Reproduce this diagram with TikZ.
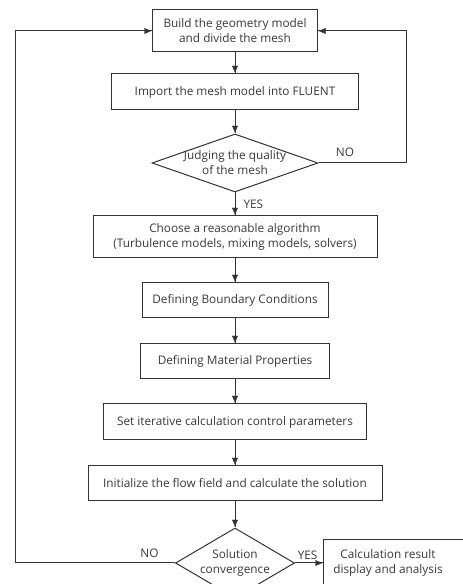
\documentclass[tikz,border=0pt]{standalone}
\usepackage{fontspec}
\setmainfont{Open Sans}
\usetikzlibrary{positioning, calc, shapes.geometric, arrows.meta, decorations.markings}
\definecolor{linegray}{HTML}{333333}
\definecolor{textgray}{HTML}{383838}
\tikzstyle{Arrow} = [
	line width=1pt, draw=linegray,
	decoration={
		markings,
		mark=at position 1 with {
			\arrow[linegray]{Triangle[length=8pt, width=6.5pt]}
			}
		},
	preaction = {decorate}
	]

\begin{document}
\begin{tikzpicture}[
box/.style={rectangle, draw=linegray, line width=1pt,
	text=textgray, align=center, inner sep=0pt,
	font=\fontsize{11.8pt}{15pt}\selectfont
	},
decision/.style={diamond, draw=linegray, line width=1pt,
	inner sep=0pt
	},
txt/.style={text=textgray, align=center, inner sep=0pt,
	font=\fontsize{11.8pt}{15pt}\selectfont
	},
lbl/.style={text=textgray, inner sep=0pt,
	font=\fontsize{11.8pt}{13pt}\selectfont
	}
]
 \useasboundingbox (0,0) rectangle (463pt,584pt);

 \node [box, minimum width=165pt, minimum height=42pt] (r1) at (235pt,553pt)
 	{Build the geometry model\\and divide the mesh};
 \node [box, minimum width=247pt, minimum height=36pt, below=21pt of r1] (r2)
 	{Import the mesh model into FLUENT};
 \node [decision, minimum width=166pt, minimum height=58pt, below=23pt of r2] (d1) {};
 \node [txt] (d1t) at (d1) {Judging the quality\\of the mesh};
 \node [box, minimum width=284pt, minimum height=42pt, below=23pt of d1] (r3)
 	{Choose a reasonable algorithm\\(Turbulence models, mixing models, solvers)};
 \node [box, minimum width=186pt, minimum height=35pt, below=24pt of r3] (r4)
 	{Defining Boundary Conditions};
 \node [box, minimum width=189pt, minimum height=35pt, below=25pt of r4] (r5)
 	{Defining Material Properties};
 \node [box, minimum width=263pt, minimum height=36pt, below=24pt of r5] (r6)
 	{Set iterative calculation control parameters};
 \node [box, minimum width=294pt, minimum height=35pt, below=25pt of r6] (r7)
 	{Initialize the flow field and calculate the solution};
 \node [decision, minimum width=119pt, minimum height=70pt, below=26pt of r7] (d2) {};
 \node [txt] (d2t) at (d2) {Solution\\convergence};
 \node [box, minimum width=150pt, minimum height=47pt, anchor=west] (r8)
 	at ($(d2.east)+(28pt,0)$) {};
 \node [txt] (r8t) at ($(r8.west)+(65pt,0)$) {Calculation result\\display and analysis};

 \draw[Arrow] (r1.south) -- (r2.north);
 \draw[Arrow] (r2.south) -- (d1.north);
 \draw[Arrow] (d1.south) -- node[lbl, right=8pt] (yes1) {YES} (r3.north);
 \draw[Arrow] (d1.east) -- node[lbl, above=6pt, pos=0.3] (no1) {NO} ++(88pt,0) |- (r1.east);

 \draw[Arrow] (r3.south) -- (r4.north);
 \draw[Arrow] (r4.south) -- (r5.north);
 \draw[Arrow] (r5.south) -- (r6.north);
 \draw[Arrow] (r6.south) -- (r7.north);
 \draw[Arrow] (r7.south) -- (d2.north);

 \draw[Arrow] (d2.east) -- node[lbl, above=3pt, pos=0.45] (yes2) {YES} (r8.west);
 \draw[Arrow] (d2.west) -- node[lbl, above=5pt, pos=0.16] (no2) {NO} ++(-160pt,0) |- (r1.west);

\end{tikzpicture}
\end{document}
